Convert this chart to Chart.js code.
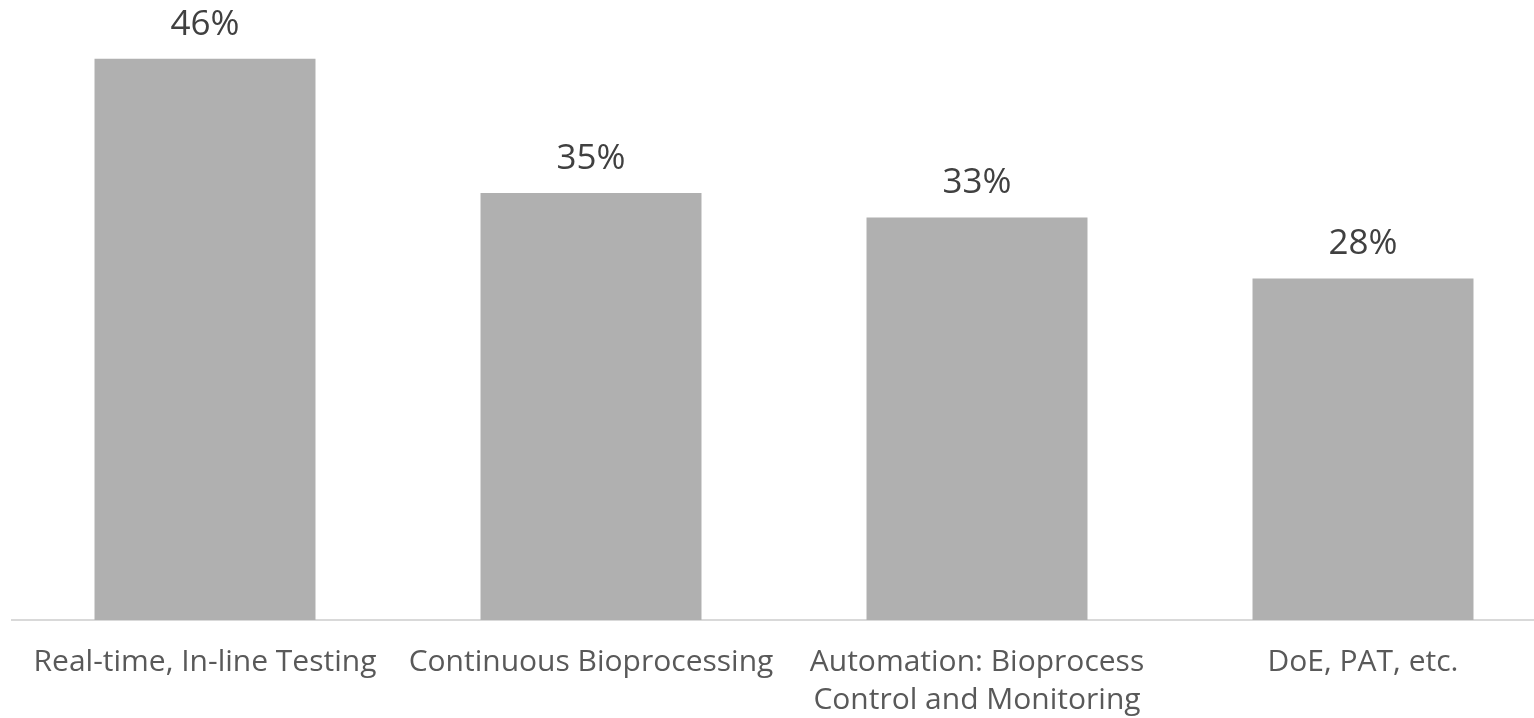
<!DOCTYPE html>
<html>
<head>
<meta charset="utf-8">
<script src="https://cdn.jsdelivr.net/npm/chart.js@4"></script>
<style>
  html, body { margin: 0; padding: 0; background: #fff; overflow: hidden; }
  #wrap { width: 1556px; height: 718px; }
</style>
</head>
<body>
<div id="wrap"><canvas id="chart" width="1556" height="718"></canvas></div>
<script>
const categories = [
  'Real-time, In-line Testing',
  'Continuous Bioprocessing',
  ['Automation: Bioprocess', 'Control and Monitoring'],
  'DoE, PAT, etc.'
];
const shares = [46, 35, 33, 28];

const FONT = "'Open Sans'";

// percent labels above each bar
const valueLabels = {
  id: 'valueLabels',
  afterDatasetsDraw(chart) {
    const ctx = chart.ctx;
    const meta = chart.getDatasetMeta(0);
    ctx.save();
    ctx.font = '35px ' + FONT;
    ctx.fillStyle = '#404040';
    ctx.textAlign = 'center';
    ctx.textBaseline = 'alphabetic';
    meta.data.forEach((bar, i) => {
      ctx.fillText(shares[i] + '%', bar.x, bar.y - 24);
    });
    ctx.restore();
  }
};

new Chart(document.getElementById('chart'), {
  type: 'bar',
  data: {
    labels: categories,
    datasets: [{
      data: shares,
      backgroundColor: '#b0b0b0',
      categoryPercentage: 1,
      barPercentage: 0.5725
    }]
  },
  options: {
    responsive: false,
    animation: false,
    layout: { padding: { left: 12, top: 10, right: 0, bottom: 0 } },
    plugins: {
      legend: { display: false },
      tooltip: { enabled: false }
    },
    scales: {
      x: {
        grid: { display: false, drawTicks: false },
        border: { display: true, color: '#d9d9d9', width: 2 },
        ticks: {
          color: '#595959',
          font: { family: FONT, size: 30, lineHeight: 1.28 },
          padding: 23,
          maxRotation: 0,
          autoSkip: false
        },
        afterFit(scale) { scale.height = 98; }
      },
      y: {
        display: false,
        min: 0,
        max: 50
      }
    }
  },
  plugins: [valueLabels]
});
</script>
</body>
</html>
